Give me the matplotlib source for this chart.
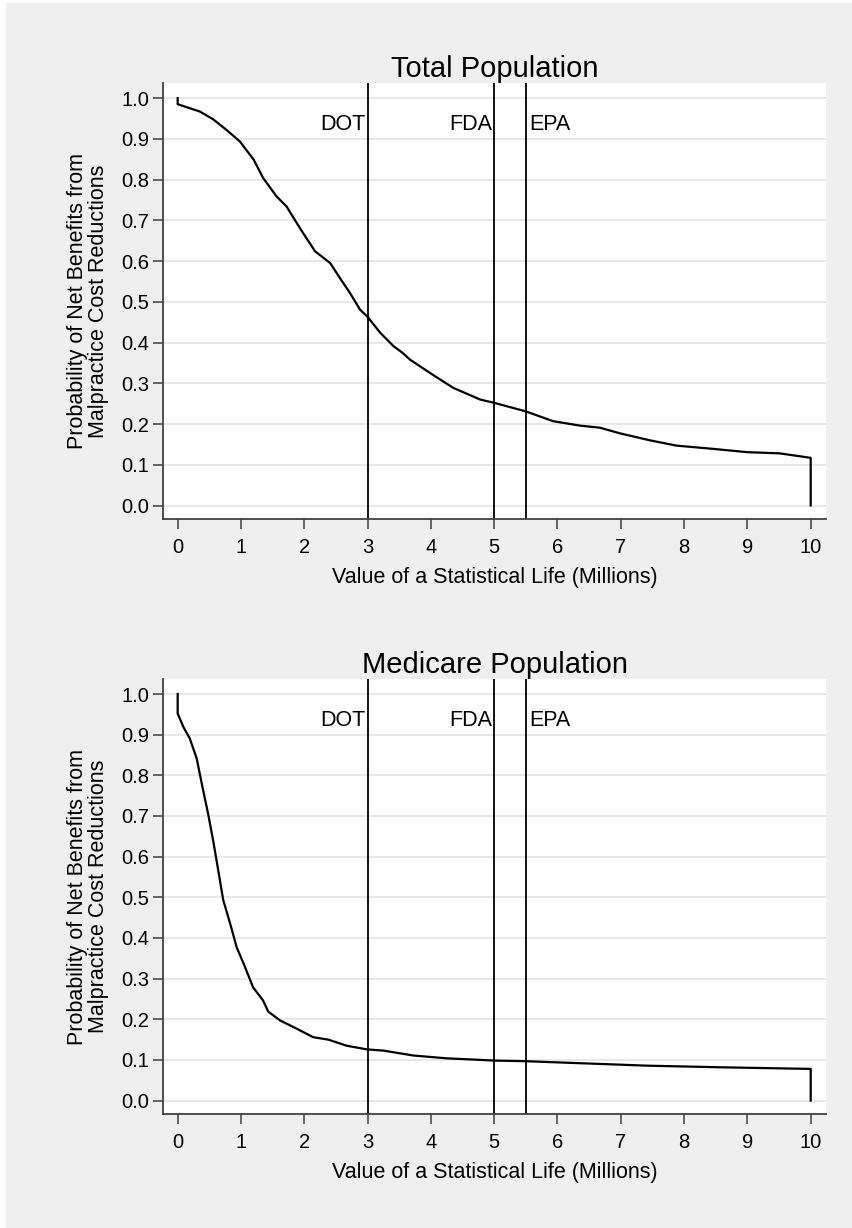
import matplotlib.pyplot as plt
from matplotlib.patches import Rectangle

plt.rcParams["font.family"] = ["Liberation Sans", "DejaVu Sans"]

# curve: value of a statistical life (millions) vs probability
vsl_total = [0.0, 0.0, 0.35, 0.56, 0.77, 0.98, 1.2, 1.35, 1.56, 1.72, 1.83, 1.98,
             2.17, 2.41, 2.56, 2.72, 2.88, 3.0, 3.2, 3.41, 3.55, 3.67, 3.99, 4.35,
             4.78, 5.0, 5.5, 5.93, 6.36, 6.67, 6.99, 7.46, 7.88, 8.46, 8.99, 9.51,
             10.0, 10.0]
prob_total = [1.0, 0.985, 0.967, 0.948, 0.922, 0.894, 0.849, 0.804, 0.759, 0.734,
              0.706, 0.669, 0.624, 0.595, 0.559, 0.522, 0.481, 0.463, 0.424, 0.391,
              0.375, 0.358, 0.325, 0.289, 0.260, 0.252, 0.231, 0.207, 0.196, 0.191,
              0.177, 0.160, 0.147, 0.139, 0.131, 0.128, 0.117, 0.0]

vsl_medicare = [0.0, 0.0, 0.09, 0.19, 0.30, 0.38, 0.48, 0.56, 0.64, 0.72, 0.83,
                0.93, 1.06, 1.19, 1.35, 1.43, 1.62, 1.88, 2.14, 2.38, 2.67, 2.99,
                3.25, 3.72, 4.25, 4.67, 5.0, 5.49, 6.36, 7.41, 8.57, 10.0, 10.0]
prob_medicare = [1.0, 0.952, 0.919, 0.891, 0.842, 0.780, 0.706, 0.640, 0.567,
                 0.493, 0.435, 0.378, 0.330, 0.279, 0.246, 0.219, 0.197, 0.177,
                 0.156, 0.150, 0.135, 0.126, 0.123, 0.111, 0.104, 0.101, 0.0985,
                 0.097, 0.092, 0.086, 0.082, 0.078, 0.0]

agency_names = ["DOT", "FDA", "EPA"]
agency_vsl = [3.0, 5.0, 5.5]

x_ticks = list(range(0, 11))
y_ticks = [i / 10 for i in range(0, 11)]
y_tick_labels = [f"{v:.1f}" for v in y_ticks]

panel_titles = ["Total Population", "Medicare Population"]
x_label = "Value of a Statistical Life (Millions)"
y_label = "Probability of Net Benefits from\nMalpractice Cost Reductions"

BG = "#efefef"
GRID = "#e6e6e6"
AXIS = "#404040"


def draw_panel(ax, x, y, title):
    ax.set_facecolor("white")
    for yv in y_ticks:
        ax.axhline(yv, color=GRID, lw=1.3, zorder=0)

    for name, v in zip(agency_names, agency_vsl):
        ax.axvline(v, color="black", lw=1.3, zorder=2)
        if name == "EPA":
            ax.text(v + 0.06, 0.935, name, ha="left", va="center", fontsize=15.5)
        else:
            ax.text(v - 0.03, 0.935, name, ha="right", va="center", fontsize=15.5)

    ax.plot(x, y, color="black", lw=1.6, zorder=3)

    ax.set_xlim(-0.232, 10.242)
    ax.set_ylim(-0.033, 1.037)
    ax.set_xticks(x_ticks)
    ax.set_yticks(y_ticks)
    ax.set_yticklabels(y_tick_labels)
    ax.tick_params(axis="both", direction="out", length=7, width=1.1,
                   color=AXIS, labelsize=14.5, pad=3)
    ax.tick_params(axis="x", pad=7)

    for side in ["top", "right"]:
        ax.spines[side].set_visible(False)
    for side in ["left", "bottom"]:
        ax.spines[side].set_color(AXIS)
        ax.spines[side].set_linewidth(1.3)

    ax.set_title(title, fontsize=21, pad=4)
    ax.set_xlabel(x_label, fontsize=15.5, labelpad=7)
    ax.set_ylabel(y_label, fontsize=15.5, labelpad=9, linespacing=0.95)


fig = plt.figure(figsize=(8.52, 12.28), dpi=100, facecolor="white")
fig.patches.append(Rectangle((6 / 852, 0), 1, 1 - 3 / 1228,
                             transform=fig.transFigure, color=BG, zorder=-10))

ax_top = fig.add_axes([0.1913, 0.5774, 0.7782, 0.355])
ax_bot = fig.add_axes([0.1913, 0.0928, 0.7782, 0.3543])

draw_panel(ax_top, vsl_total, prob_total, panel_titles[0])
draw_panel(ax_bot, vsl_medicare, prob_medicare, panel_titles[1])

fig.savefig("out.png", dpi=100, facecolor=fig.get_facecolor())
